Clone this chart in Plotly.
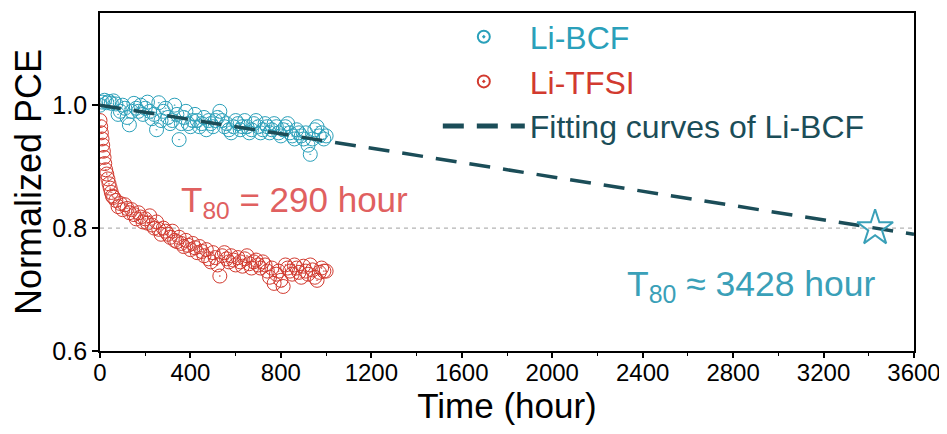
import plotly.graph_objects as go

# ---------------- data ----------------
bcf_t = list(range(0, 1001, 10))
bcf_v = [1.000, 1.005, 1.008, 1.004, 1.006, 1.003, 1.007, 1.002, 0.985, 0.990,
         1.000, 0.995, 0.980, 0.968, 0.990, 1.003, 0.995, 0.990, 1.000, 0.985,
         0.995, 1.005, 0.990, 0.978, 0.985, 0.960, 1.004, 0.975, 0.990, 0.995,
         0.980, 0.970, 0.975, 1.000, 0.985, 0.944, 0.970, 0.980, 0.990, 0.970,
         0.965, 0.975, 0.985, 0.975, 0.965, 0.970, 0.980, 0.960, 0.975, 0.970,
         0.965, 0.975, 0.980, 0.990, 0.975, 0.965, 0.970, 0.960, 0.955, 0.965,
         0.975, 0.970, 0.960, 0.965, 0.975, 0.965, 0.955, 0.960, 0.970, 0.975,
         0.965, 0.955, 0.960, 0.970, 0.965, 0.955, 0.960, 0.970, 0.965, 0.955,
         0.950, 0.960, 0.965, 0.970, 0.955, 0.950, 0.945, 0.960, 0.955, 0.950,
         0.945, 0.955, 0.935, 0.920, 0.945, 0.960, 0.965, 0.950, 0.955, 0.945,
         0.950]

tfsi_t = [0, 3, 6, 9, 12, 15, 18, 21, 25, 30, 35, 40, 45, 50, 55, 60] + list(range(70, 1001, 10))
tfsi_v = [0.975, 0.965, 0.955, 0.945, 0.935, 0.925, 0.915, 0.905, 0.895, 0.888,
          0.880, 0.872, 0.865, 0.858, 0.852, 0.850,
          0.845, 0.835, 0.840, 0.830, 0.838, 0.832, 0.825, 0.830, 0.822, 0.815,
          0.825, 0.818, 0.810, 0.815, 0.808, 0.820, 0.805, 0.800, 0.810, 0.798,
          0.790, 0.800, 0.795, 0.790, 0.785, 0.795, 0.780, 0.778, 0.785, 0.775,
          0.770, 0.780, 0.772, 0.765, 0.775, 0.768, 0.760, 0.770, 0.762, 0.755,
          0.765, 0.750, 0.745, 0.760, 0.752, 0.740, 0.722, 0.755, 0.760, 0.750,
          0.745, 0.755, 0.748, 0.740, 0.752, 0.745, 0.738, 0.750, 0.755, 0.742,
          0.735, 0.745, 0.748, 0.740, 0.735, 0.745, 0.740, 0.730, 0.720, 0.735,
          0.710, 0.725, 0.730, 0.715, 0.705, 0.740, 0.735, 0.730, 0.725, 0.740,
          0.735, 0.728, 0.720, 0.738, 0.730, 0.725, 0.740, 0.732, 0.720, 0.715,
          0.728, 0.735, 0.730, 0.730]

fit_t = [0, 3600]
fit_v = [1.0, 0.79]

t80_level = 0.8
t80_bcf = 3428
t80_tfsi = 290

x_ticks = list(range(0, 3601, 400))
x_labels = [str(v) for v in x_ticks]
y_ticks = [0.6, 0.8, 1.0]
y_labels = ["%.1f" % v for v in y_ticks]

# ---------------- style ----------------
C_BCF = "#2aa0ba"
C_TFSI = "#d23a2f"
C_FIT = "#1b4d58"
C_TFSI_TXT = "#e06060"
C_BCF_TXT = "#3aa0b8"
FONT = "Liberation Sans, Arial, sans-serif"

fig = go.Figure()

fig.add_trace(go.Scatter(
    x=bcf_t, y=bcf_v, mode="markers",
    name="<span style='color:%s'>Li-BCF</span>" % C_BCF,
    marker=dict(symbol="circle-open-dot", size=14, color=C_BCF, line=dict(width=1, color=C_BCF)),
))
fig.add_trace(go.Scatter(
    x=tfsi_t, y=tfsi_v, mode="markers",
    name="<span style='color:%s'>Li-TFSI</span>" % C_TFSI,
    marker=dict(symbol="circle-open-dot", size=14, color=C_TFSI, line=dict(width=1, color=C_TFSI)),
))
fig.add_trace(go.Scatter(
    x=fit_t, y=fit_v, mode="lines",
    name="<span style='color:%s'>Fitting curves of Li-BCF</span>" % C_FIT,
    line=dict(color=C_FIT, width=3.5, dash="21px,13px"),
))
fig.add_trace(go.Scatter(
    x=[t80_bcf], y=[t80_level], mode="markers", showlegend=False,
    marker=dict(symbol="star-open", size=27, color=C_BCF_TXT, line=dict(width=2, color=C_BCF_TXT)),
))

fig.add_shape(type="line", xref="paper", x0=0, x1=1, yref="y", y0=t80_level, y1=t80_level,
              line=dict(color="#b4b4b4", width=1.2, dash="4px,4px"), layer="below")

fig.add_annotation(x=349, y=0.842, xanchor="left", yanchor="middle", showarrow=False,
                   text="T<sub>80</sub> = %d hour" % t80_tfsi,
                   font=dict(family=FONT, size=35, color=C_TFSI_TXT))
fig.add_annotation(x=2322, y=0.705, xanchor="left", yanchor="middle", showarrow=False,
                   text="T<sub>80</sub> \u2248 %d hour" % t80_bcf,
                   font=dict(family=FONT, size=35.5, color=C_BCF_TXT))

# page body has an 8px margin: figure is sized/offset to place the plot at the right spot
fig.update_layout(
    width=939, height=426,
    margin=dict(l=92, r=33, t=5, b=83, autoexpand=False),
    paper_bgcolor="white", plot_bgcolor="white",
    font=dict(family=FONT, color="black"),
    legend=dict(x=0.415, y=1.0104, xanchor="left", yanchor="top",
                bgcolor="rgba(0,0,0,0)", font=dict(size=32, family=FONT),
                itemwidth=82, tracegroupgap=0, itemsizing="constant"),
)
fig.update_xaxes(
    range=[0, 3600], tickvals=x_ticks, ticktext=x_labels,
    ticks="outside", ticklen=5, tickwidth=1.5, tickcolor="black",
    minor=dict(ticks="outside", ticklen=3, dtick=200, tickwidth=1.2, tickcolor="black"),
    showline=True, linecolor="black", linewidth=1.8, mirror=True,
    showgrid=False, zeroline=False, automargin=False, ticklabeloverflow="allow",
    ticklabelstandoff=-6,
    tickfont=dict(size=24, family=FONT),
    title=dict(text="Time (hour)", font=dict(size=35, family=FONT), standoff=4),
)
fig.update_yaxes(
    range=[0.6, 1.15], tickvals=y_ticks, ticktext=y_labels,
    ticks="outside", ticklen=6, tickwidth=1.5, tickcolor="black",
    showline=True, linecolor="black", linewidth=1.8, mirror=True,
    showgrid=False, zeroline=False, automargin=False, ticklabeloverflow="allow",
    tickfont=dict(size=25, family=FONT),
    title=dict(text="Normalized PCE", font=dict(size=36, family=FONT), standoff=0),
)

fig.write_html("out.html")
